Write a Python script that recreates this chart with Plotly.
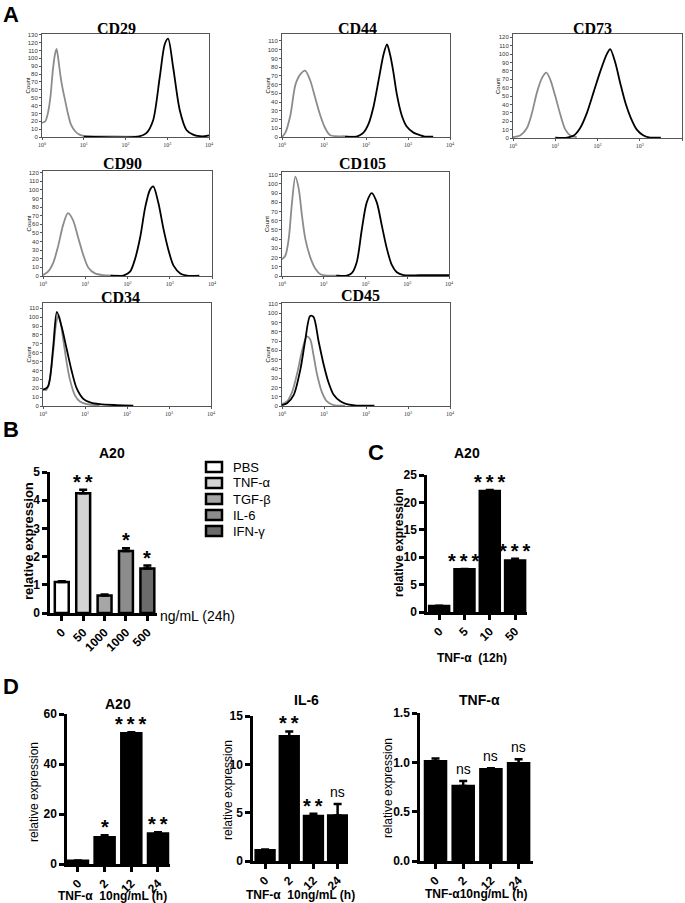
import plotly.graph_objects as go

W, H = 685, 903
GRAY = "#8c8c8c"
BLACK = "#000000"
SANS = "Arial, Liberation Sans, sans-serif"
SERIF = "Times New Roman, Liberation Serif, serif"

# ---------------- Panel A: flow cytometry histograms ----------------
# x = log10 fluorescence (decades), y = count
cd29_iso_x = [0, 0.08, 0.14, 0.2, 0.26, 0.31, 0.35, 0.4, 0.45, 0.5, 0.56, 0.62, 0.7, 0.8, 0.9, 1.0, 1.5, 2.0, 2.3]
cd29_iso_y = [18, 20, 30, 50, 85, 105, 112, 95, 75, 60, 45, 30, 15, 7, 3, 1.5, 0.8, 0.5, 0.3]
cd29_ab_x = [1.0, 2.3, 2.5, 2.66, 2.82, 2.94, 3.02, 3.14, 3.3, 3.46, 3.62, 3.78, 3.9, 4.0]
cd29_ab_y = [0.5, 0.5, 5, 21, 76, 118, 125, 89, 34, 9, 3, 1, 1, 2]

cd44_iso_x = [0, 0.08, 0.2, 0.32, 0.44, 0.55, 0.67, 0.79, 0.91, 1.03, 1.15, 1.5, 1.8]
cd44_iso_y = [0, 5, 25, 60, 72, 76, 65, 45, 25, 10, 2, 0.8, 0.5]
cd44_ab_x = [1.5, 1.78, 1.94, 2.06, 2.18, 2.3, 2.42, 2.5, 2.57, 2.65, 2.73, 2.85, 2.97, 3.13, 3.29, 3.4, 3.6]
cd44_ab_y = [0.5, 0.5, 5, 15, 35, 65, 95, 106, 95, 75, 50, 25, 12, 5, 2, 0.5, 0.5]

cd73_iso_x = [0, 0.17, 0.33, 0.45, 0.57, 0.69, 0.79, 0.88, 1.0, 1.12, 1.24, 1.36, 1.51]
cd73_iso_y = [1, 3, 12, 30, 55, 72, 78, 70, 50, 28, 10, 3, 1]
cd73_ab_x = [1.0, 1.28, 1.44, 1.59, 1.75, 1.91, 2.07, 2.22, 2.3, 2.42, 2.54, 2.66, 2.78, 2.93, 3.09, 3.25, 3.5]
cd73_ab_y = [0.5, 0.5, 3, 12, 30, 55, 80, 100, 106, 90, 65, 42, 25, 10, 3, 0.5, 0.5]

cd90_iso_x = [0, 0.12, 0.24, 0.36, 0.48, 0.59, 0.71, 0.83, 0.95, 1.07, 1.23, 1.43, 1.8]
cd90_iso_y = [1, 5, 15, 35, 60, 73, 65, 45, 25, 10, 3, 1, 0.5]
cd90_ab_x = [1.6, 1.9, 2.06, 2.18, 2.3, 2.42, 2.53, 2.61, 2.73, 2.85, 2.97, 3.09, 3.25, 3.41, 3.7]
cd90_ab_y = [0.5, 0.5, 5, 20, 45, 80, 100, 104, 85, 55, 30, 12, 3, 0.5, 0.5]

cd105_iso_x = [0, 0.08, 0.16, 0.24, 0.32, 0.4, 0.48, 0.56, 0.68, 0.8, 0.92, 1.08, 1.4]
cd105_iso_y = [18, 22, 40, 80, 108, 95, 65, 40, 20, 8, 2, 0.5, 0.5]
cd105_ab_x = [1.3, 1.55, 1.67, 1.79, 1.91, 2.03, 2.15, 2.27, 2.39, 2.51, 2.63, 2.75, 2.91, 3.3, 4.0]
cd105_ab_y = [0.5, 0.5, 3, 15, 50, 80, 90, 80, 55, 30, 12, 4, 1, 0.8, 1]

cd34_iso_x = [0, 0.08, 0.16, 0.24, 0.32, 0.38, 0.48, 0.56, 0.64, 0.76, 0.88, 1.04, 1.35]
cd34_iso_y = [20, 18, 30, 60, 95, 102, 75, 50, 30, 12, 5, 2, 0.5]
cd34_ab_x = [0, 0.12, 0.24, 0.33, 0.44, 0.56, 0.68, 0.8, 0.96, 1.12, 1.35, 1.75, 2.15]
cd34_ab_y = [18, 22, 65, 106, 90, 65, 40, 20, 8, 4, 2, 1, 0.5]

cd45_iso_x = [0, 0.12, 0.24, 0.36, 0.48, 0.59, 0.67, 0.75, 0.83, 0.95, 1.07, 1.23, 1.5]
cd45_iso_y = [2, 5, 15, 35, 60, 75, 72, 55, 35, 15, 5, 1, 0.5]
cd45_ab_x = [0, 0.12, 0.28, 0.44, 0.55, 0.67, 0.75, 0.87, 0.99, 1.11, 1.23, 1.39, 1.54, 1.78, 2.2]
cd45_ab_y = [1, 3, 12, 40, 70, 97, 96, 70, 45, 25, 12, 5, 2, 0.5, 0.5]

hist_x_ticks = [0, 1, 2, 3, 4]
hist_x_ticktext = ["10<sup>0</sup>", "10<sup>1</sup>", "10<sup>2</sup>", "10<sup>3</sup>", "10<sup>4</sup>"]

# ---------------- Panel B ----------------
b_labels = ["0", "50", "1000", "1000", "500"]
b_groups = ["PBS", "TNF-α", "TGF-β", "IL-6", "IFN-γ"]
b_values = [1.1, 4.25, 0.62, 2.2, 1.58]
b_errors = [0.03, 0.12, 0.04, 0.1, 0.1]
b_stars = ["", "**", "", "*", "*"]
b_colors = ["#ffffff", "#d4d4d4", "#a6a6a6", "#8c8c8c", "#6b6b6b"]

# ---------------- Panel C ----------------
c_labels = ["0", "5", "10", "50"]
c_values = [1.1, 7.8, 22.1, 9.4]
c_errors = [0.05, 0.05, 0.15, 0.3]
c_stars = ["", "***", "***", "***"]

# ---------------- Panel D ----------------
d_labels = ["0", "2", "12", "24"]
d_a20_values = [1.3, 10.7, 52.3, 12.2]
d_a20_errors = [0.1, 0.8, 0.4, 0.5]
d_a20_stars = ["", "*", "***", "**"]
d_il6_values = [1.1, 12.9, 4.65, 4.7]
d_il6_errors = [0.1, 0.5, 0.25, 1.2]
d_il6_stars = ["", "**", "**", "ns"]
d_tnf_values = [1.01, 0.76, 0.93, 0.99]
d_tnf_errors = [0.03, 0.05, 0.01, 0.04]
d_tnf_stars = ["", "ns", "ns", "ns"]


def dx(a, b):
    return [a / W, b / W]


def dy(t, b):
    return [1 - b / H, 1 - t / H]


fig = go.Figure()
annotations = []
shapes = []


def ann(text, px, py, size=12, bold=False, family=SANS, angle=0, xanchor="center", yanchor="middle"):
    annotations.append(dict(
        text=text, x=px / W, y=1 - py / H, xref="paper", yref="paper",
        xanchor=xanchor, yanchor=yanchor, showarrow=False, textangle=angle,
        font=dict(family=family, size=size, color="black", weight="bold" if bold else "normal")))


layout_axes = {}

hist_panels = [
    ("CD29", (42, 209, 34, 137), 131, 130, (116, 28),
     [(cd29_iso_x, cd29_iso_y, GRAY), (cd29_ab_x, cd29_ab_y, BLACK)]),
    ("CD44", (282, 450, 34, 137), 118, 110, (357, 28),
     [(cd44_iso_x, cd44_iso_y, GRAY), (cd44_ab_x, cd44_ab_y, BLACK)]),
    ("CD73", (513, 682, 34, 138), 124, 120, (592, 28),
     [(cd73_iso_x, cd73_iso_y, GRAY), (cd73_ab_x, cd73_ab_y, BLACK)]),
    ("CD90", (43, 212, 171, 276), 122, 120, (122, 163),
     [(cd90_iso_x, cd90_iso_y, GRAY), (cd90_ab_x, cd90_ab_y, BLACK)]),
    ("CD105", (282, 449, 172, 276), 113, 110, (362, 163),
     [(cd105_iso_x, cd105_iso_y, GRAY), (cd105_ab_x, cd105_ab_y, BLACK)]),
    ("CD34", (43, 211, 303, 406), 116, 110, (120, 297),
     [(cd34_iso_x, cd34_iso_y, GRAY), (cd34_ab_x, cd34_ab_y, BLACK)]),
    ("CD45", (282, 450, 303, 406), 111, 110, (360, 295),
     [(cd45_iso_x, cd45_iso_y, GRAY), (cd45_ab_x, cd45_ab_y, BLACK)]),
]

n = 0
for title, (x0, x1, y0, y1), ymax, ytickmax, (tx, ty), curves in hist_panels:
    n += 1
    xa = "xaxis" if n == 1 else f"xaxis{n}"
    ya = "yaxis" if n == 1 else f"yaxis{n}"
    xr = "x" if n == 1 else f"x{n}"
    yr = "y" if n == 1 else f"y{n}"
    for cx, cy, col in curves:
        fig.add_trace(go.Scatter(x=cx, y=cy, mode="lines", xaxis=xr, yaxis=yr,
                                 line=dict(color=col, width=1.8, shape="spline", smoothing=0.8),
                                 showlegend=False, hoverinfo="skip"))
    layout_axes[xa] = dict(domain=dx(x0, x1), anchor=yr, range=[0, 4], tickvals=hist_x_ticks,
                           ticktext=hist_x_ticktext, showline=True, mirror=True, linecolor="#555",
                           linewidth=1, ticks="outside", ticklen=2, tickcolor="#555", automargin=False,
                           tickfont=dict(size=6, family=SERIF, color="#333"), showgrid=False, zeroline=False)
    layout_axes[ya] = dict(domain=dy(y0, y1), anchor=xr, range=[0, ymax], automargin=False,
                           tickvals=list(range(0, ytickmax + 1, 10)), showline=True, mirror=True,
                           linecolor="#555", linewidth=1, ticks="outside", ticklen=2, tickcolor="#555",
                           tickfont=dict(size=6, family=SANS, color="#333"), showgrid=False, zeroline=False)
    ann(title, tx, ty, size=16, bold=True, family=SERIF)
    ann("Count", x0 - 15, (y0 + y1) / 2, size=6, angle=-90)


def add_bar_panel(idx, xpx, ypx, xrange, yrange, ytickvals, yticktext, labels, vals, errs, colors,
                  width, stars, star_size=20, tickfont_size=12):
    xr, yr = f"x{idx}", f"y{idx}"
    fig.add_trace(go.Bar(x=list(range(len(vals))), y=vals, width=width, xaxis=xr, yaxis=yr,
                         marker=dict(color=colors, line=dict(color="black", width=2.5)),
                         error_y=dict(type="data", array=errs, arrayminus=[0] * len(errs), symmetric=False,
                                      color="black", thickness=2.5, width=4),
                         showlegend=False, hoverinfo="skip"))
    layout_axes[f"xaxis{idx}"] = dict(domain=dx(*xpx), anchor=yr, range=xrange, automargin=False,
                                      tickvals=list(range(len(labels))), ticktext=labels, tickangle=-45,
                                      showline=True, linecolor="black", linewidth=2.5, ticks="outside",
                                      ticklen=5, tickwidth=2.5, tickcolor="black",
                                      tickfont=dict(size=tickfont_size, family=SANS, color="black", weight="bold"),
                                      showgrid=False, zeroline=False)
    layout_axes[f"yaxis{idx}"] = dict(domain=dy(*ypx), anchor=xr, range=yrange, tickvals=ytickvals,
                                      ticktext=yticktext, showline=True, linecolor="black", linewidth=2.5,
                                      ticks="outside", ticklen=5, tickwidth=2.5, tickcolor="black",
                                      automargin=False,
                                      tickfont=dict(size=12, family=SANS, color="black", weight="bold"),
                                      showgrid=False, zeroline=False)
    for i, s in enumerate(stars):
        if not s:
            continue
        if s == "ns":
            annotations.append(dict(text="ns", x=i, y=vals[i] + errs[i], xref=xr, yref=yr,
                                    xanchor="center", yanchor="bottom", showarrow=False, yshift=2,
                                    font=dict(family=SANS, size=14, color="black")))
        else:
            annotations.append(dict(text="\u2009".join(s), x=i, y=vals[i] + errs[i], xref=xr, yref=yr,
                                    xanchor="center", yanchor="bottom", showarrow=False, yshift=-5,
                                    font=dict(family=SANS, size=star_size, color="black", weight="bold")))


# B
add_bar_panel(8, (50, 157), (472, 613), [-0.55, 4.45], [0, 5], [0, 1, 2, 3, 4, 5],
              ["0", "1", "2", "3", "4", "5"], b_labels, b_values, b_errors, b_colors, 0.65, b_stars)
# C
add_bar_panel(9, (427, 527), (475, 612), [-0.48, 3.47], [0, 25], [0, 5, 10, 15, 20, 25],
              ["0", "5", "10", "15", "20", "25"], c_labels, c_values, c_errors, ["black"] * 4, 0.79, c_stars)
# D A20
add_bar_panel(10, (67, 170), (714, 864), [-0.41, 3.45], [0, 60], [0, 20, 40, 60],
              ["0", "20", "40", "60"], d_labels, d_a20_values, d_a20_errors, ["black"] * 4, 0.75, d_a20_stars)
# D IL-6
add_bar_panel(11, (253, 348), (716, 861), [-0.5, 3.43], [0, 15], [0, 5, 10, 15],
              ["0", "5", "10", "15"], d_labels, d_il6_values, d_il6_errors, ["black"] * 4, 0.78, d_il6_stars)
# D TNF-α
add_bar_panel(12, (420, 533), (713, 861), [-0.56, 3.52], [0, 1.5], [0, 0.5, 1.0, 1.5],
              ["0.0", "0.5", "1.0", "1.5"], d_labels, d_tnf_values, d_tnf_errors, ["black"] * 4, 0.76, d_tnf_stars)

# Panel letters
ann("A", 11, 14, size=22, bold=True)
ann("B", 11, 429, size=22, bold=True)
ann("C", 376, 453, size=22, bold=True)
ann("D", 11, 686, size=22, bold=True)

# Titles for bar panels
ann("A20", 112, 453, size=14, bold=True)
ann("A20", 467, 453, size=14, bold=True)
ann("A20", 118, 704, size=14, bold=True)
ann("IL-6", 306, 700, size=14, bold=True)
ann("TNF-α", 479, 700, size=14, bold=True)

# Y-axis titles
ann("relative expression", 28, 541, size=13, bold=True, angle=-90)
ann("relative expression", 399, 543, size=12, bold=True, angle=-90)
ann("relative expression", 34, 792, size=12, angle=-90)
ann("relative expression", 228, 790, size=12, angle=-90)
ann("relative expression", 388, 788, size=12, angle=-90)

# X-axis titles
ann("ng/mL (24h)", 158, 616, size=14, xanchor="left")
ann("TNF-α  (12h)", 472, 658, size=12, bold=True)
ann("TNF-α  10ng/mL (h)", 112, 896, size=12, bold=True)
ann("TNF-α  10ng/mL (h)", 300, 895, size=12, bold=True)
ann("TNF-α10ng/mL (h)", 476, 894, size=12, bold=True)

# Legend for panel B
leg_y = [467, 483, 499, 515, 531]
for g, col, yy in zip(b_groups, b_colors, leg_y):
    shapes.append(dict(type="rect", xref="paper", yref="paper", x0=206 / W, x1=222 / W,
                       y0=1 - (yy + 5) / H, y1=1 - (yy - 5) / H, fillcolor=col,
                       line=dict(color="black", width=2.5)))
    ann(g, 231, yy, size=13, xanchor="left")

fig.update_layout(width=W, height=H, margin=dict(l=0, r=0, t=0, b=0, autoexpand=False),
                  paper_bgcolor="white", plot_bgcolor="white", showlegend=False,
                  annotations=annotations, shapes=shapes, **layout_axes)

fig.write_html("out.html", config={"displayModeBar": False},
               post_script="document.body.style.margin='0px';document.body.style.overflow='hidden';")
